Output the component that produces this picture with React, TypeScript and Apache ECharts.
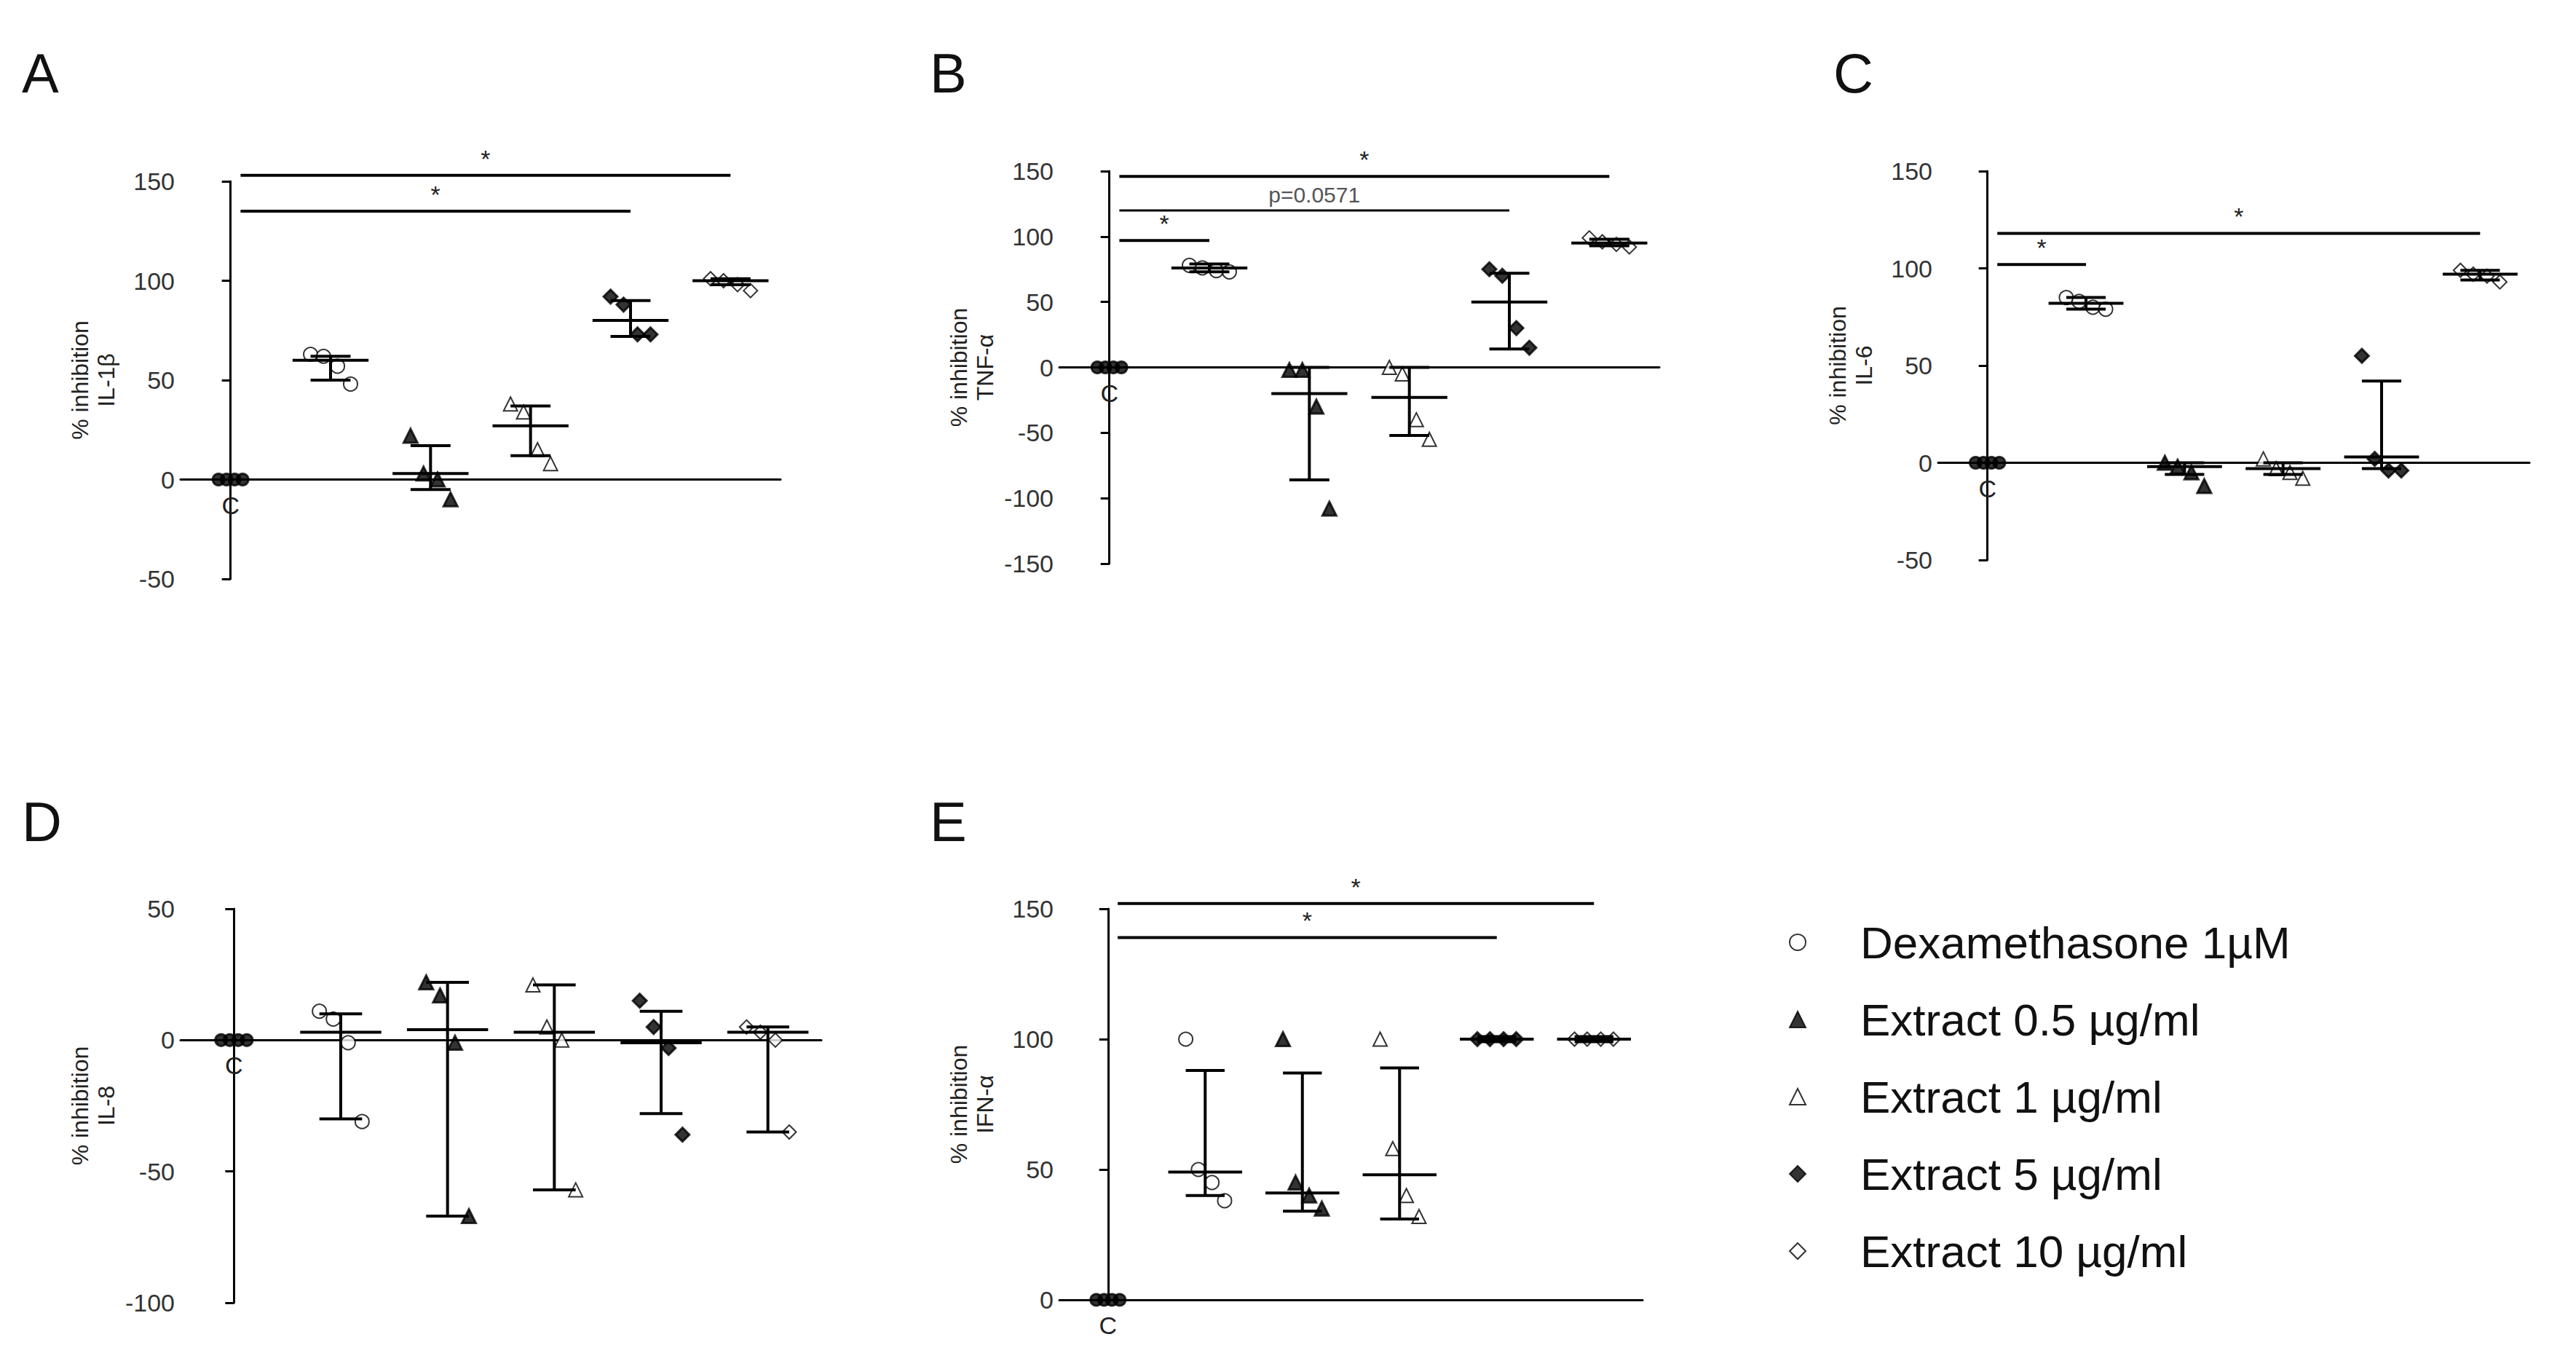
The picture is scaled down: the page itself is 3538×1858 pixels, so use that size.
import React, { useEffect, useRef } from 'react';
import * as echarts from 'echarts';

const groups = ['Control', 'Dexamethasone 1µM', 'Extract 0.5 µg/ml', 'Extract 1 µg/ml', 'Extract 5 µg/ml', 'Extract 10 µg/ml'];
const symbols = ['circle', 'emptyCircle', 'triangle', 'emptyTriangle', 'diamond', 'emptyDiamond'];
const panelLetters = ['A', 'B', 'C', 'D', 'E'];
const yNames = ['% inhibition\nIL-1β', '% inhibition\nTNF-α', '% inhibition\nIL-6', '% inhibition\nIL-8', '% inhibition\nIFN-α'];
const yMin = [-50, -150, -50, -100, 0];
const yMax = [150, 150, 150, 50, 150];

// replicate values per panel, per group
const pointsA = [[0, 0, 0, 0], [63, 62, 57, 48], [22, 3, 0, -10], [38, 34, 15, 8], [92, 88, 73, 73], [101, 100, 98, 95]];
const pointsB = [[0, 0, 0, 0], [78, 76, 74, 73], [-2, -2, -30, -108], [0, -5, -40, -55], [75, 70, 30, 15], [99, 96, 94, 92]];
const pointsC = [[0, 0, 0, 0], [85, 83, 80, 79], [0, -2, -5, -12], [2, -3, -5, -8], [55, 2, -4, -4], [99, 97, 96, 93]];
const pointsD = [[0, 0, 0, 0], [11, 8, -1, -31], [22, 17, -1, -67], [21, 5, 0, -57], [15, 5, -3, -36], [5, 3, 0, -35]];
const pointsE = [[0, 0, 0, 0], [100, 50, 45, 38], [100, 45, 40, 35], [100, 58, 40, 32], [100, 100, 100, 100], [100, 100, 100, 100]];
const panelPoints = [pointsA, pointsB, pointsC, pointsD, pointsE];

// mean, lower cap, upper cap (groups 1..5)
const barsA = [[60, 50, 62], [3, -5, 17], [27, 12, 37], [80, 72, 90], [100, 98, 101]];
const barsB = [[76, 73, 79], [-20, -86, 0], [-23, -52, 0], [50, 14, 72], [95, 93, 98]];
const barsC = [[82, 79, 85], [-2, -6, 0], [-3, -6, 0], [3, -3, 42], [97, 94, 99]];
const barsD = [[3, -30, 10], [4, -67, 22], [3, -57, 21], [-1, -28, 11], [3, -35, 5]];
const barsE = [[49, 40, 88], [41, 34, 87], [48, 31, 89], [100, 99, 101], [100, 99, 101]];
const panelBars = [barsA, barsB, barsC, barsD, barsE];

// significance: from group, to group, y, label
const sigA = [[0, 4, 135, '*'], [0, 5, 153, '*']];
const sigB = [[0, 1, 97, '*'], [0, 4, 120, 'p=0.0571'], [0, 5, 146, '*']];
const sigC = [[0, 1, 102, '*'], [0, 5, 118, '*']];
const sigD: any[] = [];
const sigE = [[0, 4, 139, '*'], [0, 5, 152, '*']];
const panelSig = [sigA, sigB, sigC, sigD, sigE];

const offsets = [-0.2, -0.07, 0.07, 0.2];
const ctrlOffsets = [-0.12, -0.04, 0.04, 0.12];
const FONT = "'Liberation Sans Narrow', 'Liberation Sans', Arial, sans-serif";

const grids = [
    { left: 248, top: 249, width: 824, height: 546 },
    { left: 1455, top: 235, width: 824, height: 539 },
    { left: 2662, top: 235, width: 812, height: 534 },
    { left: 248, top: 1248, width: 880, height: 541 },
    { left: 1455, top: 1248, width: 801, height: 537 },
];
const letterPos = [[30, 62], [1277, 62], [2518, 62], [30, 1090], [1277, 1090]];

export default function App() {
    const chartRef = useRef<HTMLDivElement>(null);

    useEffect(() => {
        if (!chartRef.current) return;
        document.body.style.margin = '0';
        const myChart = echarts.init(chartRef.current, null, { renderer: 'svg' });

        const series: any[] = [];
        grids.forEach((_, p) => {
            groups.forEach((g, gi) => {
                series.push({
                    name: g,
                    type: 'scatter',
                    xAxisIndex: p,
                    yAxisIndex: p,
                    symbol: symbols[gi],
                    symbolSize: gi === 0 ? 16 : 19,
                    itemStyle: { color: '#000', borderColor: '#000', borderWidth: 3 },
                    data: panelPoints[p][gi].map((v, k) => [gi + (gi === 0 ? ctrlOffsets[k] : offsets[k]), v]),
                    z: 3,
                });
            });
            series.push({
                type: 'custom',
                xAxisIndex: p,
                yAxisIndex: p,
                data: panelBars[p].map((b, i) => [i + 1, b[0], b[1], b[2]]),
                renderItem: (params: any, api: any) => {
                    const x = api.value(0);
                    const m = api.coord([x, api.value(1)]);
                    const lo = api.coord([x, api.value(2)]);
                    const hi = api.coord([x, api.value(3)]);
                    const w = api.size([1, 0])[0];
                    const st = { stroke: '#000', lineWidth: 4 };
                    return {
                        type: 'group',
                        children: [
                            { type: 'line', shape: { x1: m[0] - w * 0.38, y1: m[1], x2: m[0] + w * 0.38, y2: m[1] }, style: st },
                            { type: 'line', shape: { x1: m[0], y1: lo[1], x2: m[0], y2: hi[1] }, style: st },
                            { type: 'line', shape: { x1: m[0] - w * 0.2, y1: lo[1], x2: m[0] + w * 0.2, y2: lo[1] }, style: st },
                            { type: 'line', shape: { x1: m[0] - w * 0.2, y1: hi[1], x2: m[0] + w * 0.2, y2: hi[1] }, style: st },
                        ],
                    };
                },
                z: 4,
            });
            series.push({
                type: 'custom',
                xAxisIndex: p,
                yAxisIndex: p,
                data: panelSig[p],
                renderItem: (params: any, api: any) => {
                    const d = panelSig[p][params.dataIndex];
                    const a = api.coord([d[0] + 0.1, d[2]]);
                    const b = api.coord([d[1], d[2]]);
                    const isP = d[3] !== '*';
                    return {
                        type: 'group',
                        children: [
                            { type: 'line', shape: { x1: a[0], y1: a[1], x2: b[0], y2: b[1] }, style: { stroke: '#000', lineWidth: isP ? 3 : 4 } },
                            {
                                type: 'text', x: (a[0] + b[0]) / 2, y: a[1] - 6,
                                style: { text: d[3], fill: isP ? '#555' : '#222', font: `${isP ? 30 : 34}px ${FONT}`, align: 'center', verticalAlign: 'bottom' },
                            },
                        ],
                    };
                },
            });
            series.push({
                type: 'custom',
                xAxisIndex: p,
                yAxisIndex: p,
                data: [[0, 0]],
                renderItem: (params: any, api: any) => {
                    const c = api.coord([0, 0]);
                    return { type: 'text', x: c[0], y: c[1] + 18, style: { text: 'C', fill: '#222', font: `34px ${FONT}`, align: 'center', verticalAlign: 'top' } };
                },
            });
        });

        const option = {
            animation: false,
            backgroundColor: '#fff',
            grid: grids,
            xAxis: grids.map((_, p) => ({
                type: 'value', gridIndex: p, min: -0.5, max: 5.5,
                axisLine: { show: true, onZero: true, lineStyle: { color: '#000', width: 3 } },
                axisTick: { show: false }, axisLabel: { show: false }, splitLine: { show: false },
            })),
            yAxis: grids.map((_, p) => ({
                type: 'value', gridIndex: p, min: yMin[p], max: yMax[p], interval: 50,
                name: yNames[p], nameLocation: 'middle', nameGap: 84, nameRotate: 90,
                nameTextStyle: { fontFamily: FONT, fontSize: 32, color: '#222', lineHeight: 36 },
                axisLine: { show: true, lineStyle: { color: '#000', width: 3 } },
                axisTick: { show: true, length: 12, lineStyle: { color: '#000', width: 3 } },
                axisLabel: { fontFamily: FONT, fontSize: 34, color: '#333', margin: 8 },
                splitLine: { show: false },
            })),
            legend: {
                data: groups.slice(1),
                orient: 'vertical',
                left: 2452,
                top: 1258,
                itemGap: 44,
                itemWidth: 22,
                itemHeight: 22,
                textStyle: { fontFamily: FONT, fontSize: 62, color: '#111', padding: [0, 0, 0, 70] },
                selectedMode: false,
            },
            graphic: letterPos.map((pos, i) => ({
                type: 'text', left: pos[0], top: pos[1],
                style: { text: panelLetters[i], font: `76px ${FONT}`, fill: '#111' },
            })),
            series,
        };

        myChart.setOption(option);
        const handleResize = () => myChart.resize();
        window.addEventListener('resize', handleResize);
        return () => {
            window.removeEventListener('resize', handleResize);
            myChart.dispose();
        };
    }, []);

    return <div ref={chartRef} style={{ width: '3538px', height: '1858px' }} />;
}
